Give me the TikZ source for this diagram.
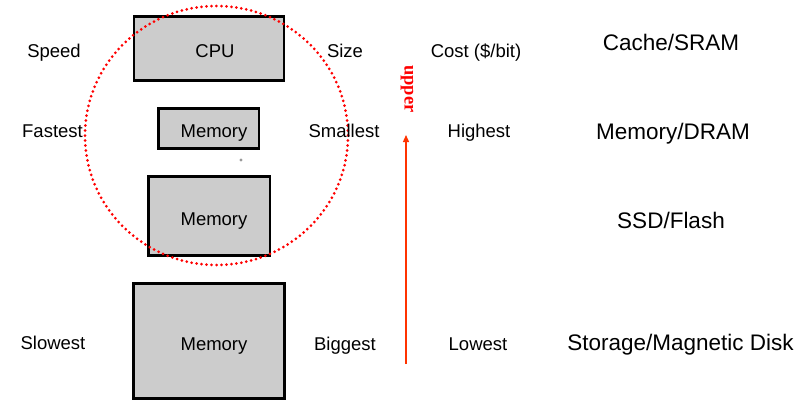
\documentclass[tikz,border=0pt]{standalone}
\usepackage{fontspec}
\setmainfont{Liberation Sans}
\newfontfamily\upperfont{Liberation Serif}
\usetikzlibrary{arrows.meta}
\definecolor{boxgray}{HTML}{CCCCCC}
\definecolor{arrowred}{HTML}{FF3300}
\begin{document}
\begin{tikzpicture}[x=1pt,y=-1pt,
  membox/.style={draw=black,line width=2.2pt,fill=boxgray},
  lbl/.style={font=\fontsize{18.5}{20}\selectfont,inner sep=0pt,anchor=base},
  biglbl/.style={font=\fontsize{22.5}{25}\selectfont,inner sep=0pt,anchor=base}]
\useasboundingbox (0,0) rectangle (800,410);
% boxes
\draw[membox] (134,16.5) rectangle (284,80.5);
\draw[membox] (158.5,108.5) rectangle (259,148.5);
\draw[membox] (148.5,176.5) rectangle (270,255.5);
\draw[membox] (133.5,283.5) rectangle (284.5,398.5);
\fill[gray!80] (241,160) circle (1.7);
% dotted circle
\draw[red,line width=3pt,dash pattern=on 0pt off 5pt,line cap=round] (216.5,135.5) ellipse (131.5 and 129.5);
% box texts
\node[lbl] (cpu) at (215,57.3) {CPU};
\node[lbl] (m1) at (214,137.3) {Memory};
\node[lbl] (m2) at (214,225) {Memory};
\node[lbl] (m3) at (214,350) {Memory};
% labels
\node[lbl] (speed) at (54,57.3) {Speed};
\node[lbl] (fast) at (52.5,137.3) {Fastest};
\node[lbl] (slow) at (53,349.5) {Slowest};
\node[lbl] (size) at (345,57.3) {Size};
\node[lbl] (small) at (344,137.3) {Smallest};
\node[lbl] (big) at (345,350) {Biggest};
\node[lbl] (cost) at (476,57.3) {Cost (\$/bit)};
\node[lbl] (high) at (479,137.3) {Highest};
\node[lbl] (low) at (478,350) {Lowest};
\node[biglbl] (cache) at (671,50.7) {Cache/SRAM};
\node[biglbl] (dram) at (673,139.3) {Memory/DRAM};
\node[biglbl] (ssd) at (671,228.3) {SSD/Flash};
\node[biglbl] (disk) at (680.5,350.3) {Storage/Magnetic Disk};
% arrow
\coordinate (abot) at (406,364);
\coordinate (atop) at (406,135);
\draw[arrowred,line width=1.3pt,-{Triangle[length=7pt,width=6pt]}] (abot) -- (atop);
\node[text=red,font=\upperfont\bfseries\fontsize{18.5}{20}\selectfont,rotate=-90,inner sep=0pt] (up) at (407,89) {upper};
\end{tikzpicture}
\end{document}
